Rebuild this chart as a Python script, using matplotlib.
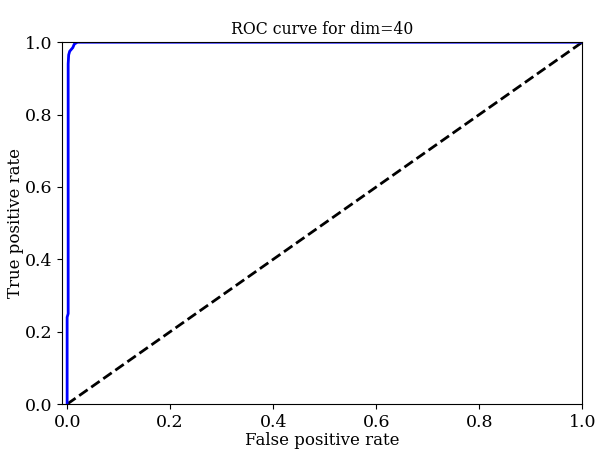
import matplotlib
matplotlib.use('Agg')
import matplotlib.pyplot as plt

# ROC 曲线数据（从图上估计）
fpr = [0.0, 0.0, 0.002, 0.002, 0.003, 0.005, 0.008, 0.011, 0.014, 0.02, 1.0]
tpr = [0.0, 0.24, 0.25, 0.94, 0.965, 0.975, 0.98, 0.985, 0.995, 1.0, 1.0]
diag = [0.0, 1.0]

plt.rcParams['font.family'] = 'DejaVu Serif'
plt.rcParams['font.size'] = 12

fig = plt.figure(figsize=(5.96, 4.49), dpi=100)
ax = fig.add_subplot(111)
ax.plot(diag, diag, 'k--', linewidth=2)
ax.plot(fpr, tpr, color='blue', linewidth=2)
ax.set_xlim(-0.01, 1.0)
ax.set_ylim(0.0, 1.0)
ax.tick_params(labelsize=12.5)
ax.set_xlabel('False positive rate', fontsize=12, labelpad=1)
ax.set_ylabel('True positive rate', fontsize=12, labelpad=0.5)
ax.set_title('ROC curve for dim=40', fontsize=11.3)
fig.subplots_adjust(left=0.104, right=0.977, top=0.906, bottom=0.1)
plt.savefig('out.png', dpi=100)
